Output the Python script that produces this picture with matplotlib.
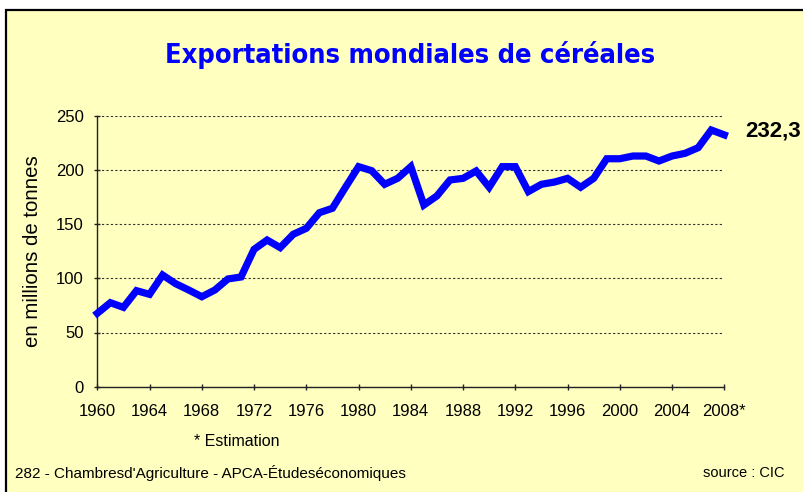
import matplotlib
matplotlib.use("Agg")
import matplotlib.pyplot as plt
from matplotlib.patches import Rectangle

# données (millions de tonnes)
years = list(range(1960, 2009))
exports = [67.7, 77.5, 73.2, 88.6, 85.2, 103.0, 95.0, 89.2, 83.0, 89.2,
           99.4, 101.2, 126.7, 135.3, 128.3, 140.6, 146.1, 160.5, 164.6, 184.0,
           203.0, 199.3, 186.7, 192.3, 203.0, 167.6, 176.0, 190.7, 192.2, 199.0,
           184.0, 203.0, 203.0, 180.0, 186.7, 188.8, 192.2, 184.0, 192.2, 210.3,
           210.3, 212.8, 212.8, 208.2, 212.8, 215.3, 220.5, 236.8, 232.3]
tick_years = list(range(1960, 2009, 4))
tick_labels = [str(y) for y in tick_years[:-1]] + ["2008*"]
y_ticks = [0, 50, 100, 150, 200, 250]

plt.rcParams['font.family'] = ["Liberation Sans", "DejaVu Sans"]

W, H = 804, 492
fig = plt.figure(figsize=(W / 100, H / 100), dpi=100, facecolor="white")

# cadre jaune
bg = "#FFFFC0"
fig.patches.append(Rectangle((6 / W, -0.2), 2.0, 1.2 - 10 / H, transform=fig.transFigure,
                             facecolor=bg, edgecolor="black", linewidth=1.6, zorder=-5))

ax = fig.add_axes([97.3 / W, 1 - 386.7 / H, 627 / W, 271 / H])
ax.set_facecolor("none")
ax.plot(years, exports, color="#0000FF", linewidth=5.2, solid_joinstyle="miter", clip_on=False, zorder=3)

ax.set_xlim(1960, 2008)
ax.set_ylim(0, 250)
ax.set_xticks(tick_years)
ax.set_xticklabels(tick_labels)
ax.set_yticks(y_ticks)
for s in ["top", "right"]:
    ax.spines[s].set_visible(False)
for s in ["left", "bottom"]:
    ax.spines[s].set_color("#222222")
    ax.spines[s].set_linewidth(1.0)
ax.tick_params(axis="both", direction="inout", length=4.5, width=1.0, color="#222222",
               labelsize=12, labelcolor="black")
ax.tick_params(axis="x", pad=10)
ax.tick_params(axis="y", pad=7.5)
ax.yaxis.grid(True, color="#333333", linestyle=(0, (2, 2)), linewidth=0.8)
ax.set_axisbelow(True)

ax.set_ylabel("en millions de tonnes", fontsize=14.7)
ax.yaxis.set_label_coords(-55 / 627, 0.5)

ax.annotate("232,3", xy=(years[-1], exports[-1]), xytext=(745, H - 136), textcoords="figure pixels",
            fontsize=16, fontweight="bold", ha="left", va="baseline")

fig.text(410 / W, 1 - 63 / H, "Exportations mondiales de céréales", ha="center", va="baseline",
         fontsize=19.5, fontweight="bold", color="#0000FF", family="DejaVu Sans",
         fontstretch="condensed")
fig.text(237 / W, 1 - 441 / H, "* Estimation", ha="center", va="center", fontsize=11.5)
fig.text(15 / W, 1 - 473 / H, "282 - Chambresd'Agriculture - APCA-Étudeséconomiques",
         ha="left", va="center", fontsize=11)
fig.text(785 / W, 1 - 473 / H, "source : CIC", ha="right", va="center", fontsize=10.5)

fig.savefig("out.png", dpi=100, facecolor="white")
